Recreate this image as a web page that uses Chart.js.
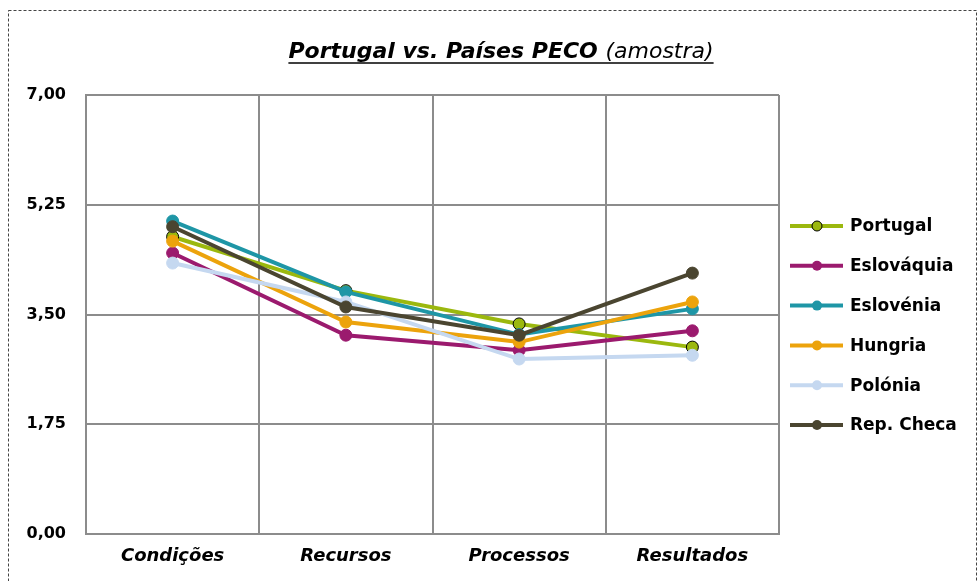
<!DOCTYPE html>
<html>
<head>
<meta charset="utf-8">
<script src="https://cdn.jsdelivr.net/npm/chart.js@4.4.0/dist/chart.umd.min.js"></script>
<style>
  body { margin: 0; background: #fff; }
  #wrap { position: relative; width: 978px; height: 581px; }
</style>
</head>
<body>
<div id="wrap"><canvas id="chart" width="978" height="581"></canvas></div>
<script>
// dados do gráfico
const categories = ['Condições', 'Recursos', 'Processos', 'Resultados'];
const seriesNames = ['Portugal', 'Eslováquia', 'Eslovénia', 'Hungria', 'Polónia', 'Rep. Checa'];
const portugal = [4.74, 3.88, 3.35, 2.98];
const eslovaquia = [4.48, 3.17, 2.93, 3.24];
const eslovenia = [4.99, 3.86, 3.18, 3.59];
const hungria = [4.67, 3.38, 3.06, 3.70];
const polonia = [4.32, 3.70, 2.79, 2.85];
const repCheca = [4.90, 3.62, 3.17, 4.16];
const yTicks = [0, 1.75, 3.5, 5.25, 7];

const seriesValues = [portugal, eslovaquia, eslovenia, hungria, polonia, repCheca];
const colors = ['#9bb80e', '#9b1a6e', '#1e96a6', '#eca30c', '#c5d8f0', '#4a4530'];
const FONT = "'DejaVu Sans', sans-serif";

const datasets = seriesNames.map((name, i) => ({
    label: name,
    data: seriesValues[i],
    borderColor: colors[i],
    backgroundColor: colors[i],
    pointBackgroundColor: colors[i],
    pointBorderColor: i === 0 ? '#000' : colors[i],
    pointBorderWidth: 1,
    pointRadius: 6,
    borderWidth: 4,
    tension: 0,
    order: seriesNames.length - i
}));

// moldura pontilhada + título
const framePlugin = {
    id: 'frame',
    beforeDraw(chart) {
        const ctx = chart.ctx;
        ctx.save();
        ctx.strokeStyle = '#444';
        ctx.lineWidth = 1;
        ctx.setLineDash([3, 2]);
        ctx.strokeRect(8.5, 10.5, 968, 580);
        ctx.restore();
    },
    afterDraw(chart) {
        const ctx = chart.ctx;
        ctx.save();
        const boldPart = 'Portugal vs. Países PECO ';
        const plainPart = '(amostra)';
        ctx.font = "italic bold 22px " + FONT;
        const w1 = ctx.measureText(boldPart).width;
        ctx.font = "italic 22px " + FONT;
        const w2 = ctx.measureText(plainPart).width;
        const x0 = 501 - (w1 + w2) / 2;
        ctx.fillStyle = '#000';
        ctx.textBaseline = 'alphabetic';
        ctx.font = "italic bold 22px " + FONT;
        ctx.fillText(boldPart, x0, 58);
        ctx.font = "italic 22px " + FONT;
        ctx.fillText(plainPart, x0 + w1, 58);
        ctx.strokeStyle = '#000';
        ctx.lineWidth = 1.5;
        ctx.beginPath();
        ctx.moveTo(x0, 63);
        ctx.lineTo(x0 + w1 + w2, 63);
        ctx.stroke();
        ctx.restore();
    }
};

// legenda à direita
const legendPlugin = {
    id: 'sideLegend',
    afterDraw(chart) {
        const ctx = chart.ctx;
        ctx.save();
        chart.data.datasets.forEach((ds, i) => {
            const y = 226 + i * 39.8;
            ctx.strokeStyle = ds.borderColor;
            ctx.lineWidth = 4;
            ctx.beginPath();
            ctx.moveTo(790, y);
            ctx.lineTo(843, y);
            ctx.stroke();
            ctx.beginPath();
            ctx.arc(817, y, 5, 0, Math.PI * 2);
            ctx.fillStyle = ds.pointBackgroundColor;
            ctx.fill();
            if (ds.pointBorderColor === '#000') {
                ctx.lineWidth = 1;
                ctx.strokeStyle = '#000';
                ctx.stroke();
            }
            ctx.fillStyle = '#000';
            ctx.font = "bold 17px " + FONT;
            ctx.textBaseline = 'middle';
            ctx.fillText(ds.label, 850, y + 1);
        });
        ctx.restore();
    }
};

new Chart(document.getElementById('chart'), {
    type: 'line',
    data: { labels: categories, datasets: datasets },
    options: {
        responsive: false,
        animation: false,
        layout: { padding: { top: 95, right: 199, left: 0, bottom: 0 } },
        plugins: {
            legend: { display: false },
            tooltip: { enabled: false }
        },
        scales: {
            x: {
                offset: true,
                grid: { offset: true, color: '#8c8c8c', lineWidth: 2, drawTicks: false },
                border: { color: '#8c8c8c', width: 2 },
                ticks: {
                    color: '#000',
                    padding: 12,
                    font: { family: FONT, size: 18, weight: 'bold', style: 'italic' }
                },
                afterFit(scale) { scale.height = 47; }
            },
            y: {
                min: yTicks[0],
                max: yTicks[yTicks.length - 1],
                afterBuildTicks(scale) { scale.ticks = yTicks.map(v => ({ value: v })); },
                grid: { color: '#8c8c8c', lineWidth: 2, drawTicks: false },
                border: { color: '#8c8c8c', width: 2 },
                ticks: {
                    color: '#000',
                    padding: 20,
                    font: { family: FONT, size: 16, weight: 'bold' },
                    callback: v => v.toFixed(2).replace('.', ',')
                },
                afterFit(scale) { scale.width = 86; }
            }
        }
    },
    plugins: [framePlugin, legendPlugin]
});
</script>
</body>
</html>
